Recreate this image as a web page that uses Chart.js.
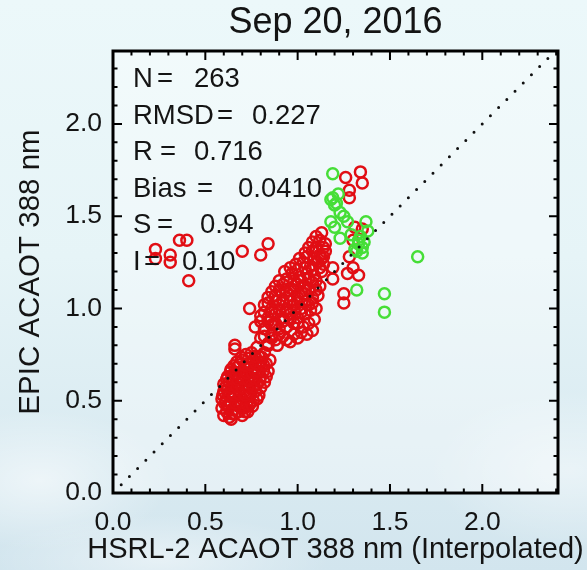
<!DOCTYPE html>
<html lang="en">
<head>
<meta charset="UTF-8">
<title>EPIC vs HSRL-2 ACAOT 388 nm</title>
<script src="https://cdn.jsdelivr.net/npm/chart.js@4"></script>
<style>
  html, body { margin: 0; padding: 0; }
  body {
    width: 587px;
    height: 570px;
    overflow: hidden;
    background:
      radial-gradient(ellipse 130px 70px at 40px 480px, rgba(255,255,255,0.55), rgba(255,255,255,0)),
      radial-gradient(ellipse 170px 45px at 160px 560px, rgba(255,255,255,0.45), rgba(255,255,255,0)),
      radial-gradient(ellipse 140px 80px at 570px 470px, rgba(255,255,255,0.45), rgba(255,255,255,0)),
      linear-gradient(to bottom, #ecf8fa 0%, #e6f4f7 45%, #d2e5ee 100%);
  }
  canvas { display: block; }
</style>
</head>
<body>
<canvas id="scatter" width="587" height="570"></canvas>
<script>
  // AOT pairs [HSRL-2, EPIC]
  const redPoints = [
    [0.60,0.42],[0.63,0.41],[0.66,0.43],[0.70,0.42],[0.73,0.44],[0.64,0.40],
    [0.59,0.46],[0.62,0.47],[0.65,0.45],[0.68,0.47],[0.71,0.46],[0.74,0.48],
    [0.59,0.51],[0.61,0.50],[0.64,0.52],[0.67,0.50],[0.70,0.51],[0.73,0.52],[0.76,0.50],
    [0.60,0.55],[0.62,0.56],[0.65,0.54],[0.68,0.56],[0.71,0.55],[0.74,0.57],[0.77,0.55],[0.79,0.53],
    [0.60,0.59],[0.63,0.60],[0.66,0.58],[0.69,0.60],[0.72,0.59],[0.75,0.61],[0.78,0.59],[0.82,0.60],
    [0.62,0.63],[0.65,0.64],[0.68,0.62],[0.71,0.64],[0.74,0.63],[0.77,0.65],[0.80,0.63],
    [0.64,0.67],[0.67,0.68],[0.70,0.66],[0.73,0.68],[0.76,0.67],[0.79,0.69],[0.84,0.66],
    [0.67,0.71],[0.70,0.72],[0.73,0.70],[0.76,0.72],[0.80,0.71],[0.83,0.70],[0.85,0.72],
    [0.72,0.75],[0.75,0.76],[0.79,0.74],[0.82,0.76],[0.66,0.80],[0.66,0.78],
    [0.615,0.44],[0.645,0.43],[0.68,0.44],[0.715,0.44],
    [0.605,0.485],[0.635,0.49],[0.665,0.485],[0.695,0.49],[0.725,0.48],[0.755,0.47],
    [0.595,0.53],[0.625,0.535],[0.655,0.53],[0.685,0.535],[0.715,0.53],[0.745,0.535],[0.78,0.51],
    [0.61,0.575],[0.64,0.57],[0.67,0.575],[0.70,0.57],[0.73,0.575],[0.76,0.575],[0.80,0.57],
    [0.615,0.615],[0.645,0.62],[0.675,0.615],[0.705,0.62],[0.735,0.61],[0.765,0.62],[0.795,0.61],[0.83,0.63],
    [0.635,0.655],[0.665,0.65],[0.695,0.645],[0.725,0.65],[0.755,0.65],[0.785,0.66],[0.815,0.66],
    [0.655,0.69],[0.685,0.695],[0.715,0.69],[0.745,0.695],[0.775,0.70],[0.815,0.695],
    [0.695,0.735],[0.735,0.73],[0.77,0.74],[0.805,0.735],
    [0.78,0.79],[0.84,0.80],[0.89,0.80],
    [0.80,0.84],[0.84,0.81],[0.88,0.83],[0.92,0.85],[0.96,0.82],[1.00,0.84],[1.05,0.86],[0.86,0.86],
    [0.82,0.85],[0.86,0.84],[0.90,0.86],[0.94,0.83],[0.98,0.86],[1.02,0.87],
    [0.77,0.90],[0.82,0.89],[0.86,0.91],[0.90,0.89],[0.94,0.90],[0.98,0.92],[1.03,0.90],[1.08,0.88],
    [0.80,0.93],[0.84,0.93],[0.88,0.92],[0.92,0.93],[0.96,0.94],[1.00,0.92],[1.06,0.92],
    [0.80,0.96],[0.84,0.95],[0.88,0.97],[0.92,0.95],[0.96,0.97],[1.00,0.95],[1.04,0.97],[1.09,0.94],
    [0.82,0.98],[0.86,0.98],[0.90,0.99],[0.94,0.98],[0.98,0.99],[1.02,0.98],[1.07,0.99],
    [0.74,1.00],[0.82,1.02],[0.86,1.00],[0.90,1.02],[0.94,1.00],[0.98,1.02],[1.02,1.00],[1.06,1.02],[1.10,1.00],
    [0.84,1.03],[0.88,1.04],[0.92,1.03],[0.96,1.04],[1.00,1.03],[1.04,1.04],[1.08,1.03],
    [0.84,1.06],[0.88,1.07],[0.92,1.05],[0.96,1.07],[1.00,1.06],[1.04,1.08],[1.08,1.06],[1.11,1.07],
    [0.86,1.09],[0.90,1.10],[0.94,1.09],[0.98,1.10],[1.02,1.09],[1.06,1.10],[1.10,1.10],
    [0.88,1.12],[0.92,1.13],[0.96,1.11],[1.00,1.13],[1.04,1.12],[1.08,1.14],[1.12,1.12],
    [0.90,1.15],[0.94,1.16],[0.98,1.15],[1.02,1.15],[1.06,1.16],[1.10,1.15],
    [0.93,1.20],[0.97,1.19],[1.01,1.17],[1.05,1.19],[1.09,1.18],[1.13,1.20],
    [0.96,1.22],[1.00,1.21],[1.04,1.22],[1.08,1.21],[1.12,1.22],
    [0.99,1.24],[1.03,1.25],[1.07,1.23],[1.11,1.25],[1.14,1.24],
    [1.01,1.27],[1.05,1.28],[1.09,1.27],[1.13,1.27],
    [1.04,1.30],[1.08,1.31],[1.12,1.29],[1.15,1.31],
    [1.06,1.33],[1.10,1.33],[1.10,1.39],[1.13,1.41],
    [1.08,1.36],[1.12,1.37],[1.15,1.35],[1.14,1.33],[1.14,1.28],
    [1.19,1.22],[1.19,1.16],[1.28,1.28],[1.30,1.22],[1.27,1.19],[1.33,1.18],[1.25,1.08],[1.25,1.03],
    [1.34,1.74],[1.35,1.68],[1.26,1.71],[1.28,1.60],[1.28,1.64],[1.35,1.43],[1.31,1.44],[1.30,1.37],
    [0.23,1.32],[0.23,1.27],[0.31,1.29],[0.31,1.25],[0.36,1.37],[0.40,1.37],[0.41,1.15],
    [0.70,1.31],[0.80,1.29],[0.84,1.35]
  ];
  const greenPoints = [
    [1.19,1.73],[1.19,1.60],[1.18,1.59],[1.20,1.56],[1.22,1.62],[1.21,1.57],[1.23,1.52],[1.25,1.50],
    [1.18,1.47],[1.27,1.47],[1.37,1.47],[1.20,1.44],[1.38,1.42],[1.23,1.38],[1.29,1.40],[1.33,1.37],
    [1.34,1.39],[1.36,1.36],[1.35,1.33],[1.35,1.30],[1.31,1.32],[1.32,1.31],[1.33,1.35],[1.65,1.28],
    [1.32,1.10],[1.47,1.08],[1.47,0.98]
  ];
  const oneToOne = [0, 2.4];

  const statNames = ['N', 'RMSD', 'R', 'Bias', 'S', 'I'];
  const statValues = ['263', '0.227', '0.716', '0.0410', '0.94', '0.10'];

  const FONT = '"Liberation Sans", Arial, Helvetica, sans-serif';
  const INK = '#141414';
  const X_TITLE = 'HSRL-2 ACAOT 388 nm (Interpolated)';

  // box, inward ticks on all four sides, light fill behind the points
  const framePlugin = {
    id: 'frame',
    beforeDatasetsDraw(chart) {
      const { ctx, chartArea: a } = chart;
      ctx.save();
      ctx.fillStyle = 'rgba(255,255,255,0.35)';
      ctx.fillRect(a.left, a.top, a.right - a.left, a.bottom - a.top);
      ctx.restore();
    },
    afterDraw(chart) {
      const { ctx, chartArea: a, scales } = chart;
      ctx.save();
      ctx.strokeStyle = '#000';
      ctx.lineWidth = 2;
      ctx.beginPath();
      for (let i = 0; i <= 24; i++) {
        const v = i / 10;
        const len = i % 5 === 0 ? 9 : 4.5;
        const px = scales.x.getPixelForValue(v);
        if (px < a.right - 1) {
          ctx.moveTo(px, a.bottom); ctx.lineTo(px, a.bottom - len);
          ctx.moveTo(px, a.top); ctx.lineTo(px, a.top + len);
        }
        const py = scales.y.getPixelForValue(v);
        if (py > a.top + 1) {
          ctx.moveTo(a.left, py); ctx.lineTo(a.left + len, py);
          ctx.moveTo(a.right, py); ctx.lineTo(a.right - len, py);
        }
      }
      ctx.stroke();
      ctx.lineWidth = 3;
      ctx.strokeRect(a.left, a.top, a.right - a.left, a.bottom - a.top);

      // x title is wider than the plot box, so it is drawn here
      ctx.font = '29px ' + FONT;
      ctx.fillStyle = INK;
      ctx.textAlign = 'center';
      ctx.textBaseline = 'middle';
      ctx.fillText(X_TITLE, (a.left + a.right) / 2, 550);
      ctx.restore();
    }
  };

  // statistics block in the upper left corner
  const eqX = [44, 104, 47, 84, 44, 31];
  const valX = [81, 139, 81, 125, 87, 69];
  const statsPlugin = {
    id: 'stats',
    afterDatasetsDraw(chart) {
      const { ctx, chartArea: a } = chart;
      ctx.save();
      ctx.font = '27.5px ' + FONT;
      ctx.fillStyle = INK;
      ctx.textBaseline = 'alphabetic';
      statNames.forEach((name, i) => {
        const base = a.top + 36 + i * 36.6;
        ctx.fillText(name, a.left + 20, base);
        ctx.fillText('=', a.left + eqX[i], base);
        ctx.fillText(statValues[i], a.left + valX[i], base);
      });
      ctx.restore();
    }
  };

  const toXY = p => ({ x: p[0], y: p[1] });

  new Chart(document.getElementById('scatter'), {
    type: 'scatter',
    data: {
      datasets: [
        {
          data: oneToOne.map(v => ({ x: v, y: v })),
          showLine: true,
          borderColor: '#111',
          borderWidth: 3,
          borderDash: [0, 11.6],
          borderCapStyle: 'round',
          pointRadius: 0
        },
        {
          data: greenPoints.map(toXY),
          pointStyle: 'circle',
          pointRadius: 5.5,
          pointBorderWidth: 2.5,
          pointBorderColor: 'rgb(70,222,55)',
          pointBackgroundColor: 'rgba(0,0,0,0)'
        },
        {
          data: redPoints.map(toXY),
          pointStyle: 'circle',
          pointRadius: 5.5,
          pointBorderWidth: 2.5,
          pointBorderColor: 'rgb(225,14,20)',
          pointBackgroundColor: 'rgba(0,0,0,0)'
        }
      ]
    },
    options: {
      responsive: false,
      animation: false,
      layout: { padding: { top: 0, right: 29, bottom: 0, left: 0 } },
      plugins: {
        legend: { display: false },
        tooltip: { enabled: false },
        title: {
          display: true,
          text: 'Sep 20, 2016',
          fullSize: false,
          color: INK,
          font: { family: FONT, size: 36, weight: 'normal' },
          padding: { top: 1, bottom: 6.8 }
        }
      },
      scales: {
        x: {
          type: 'linear',
          min: 0,
          max: 2.41,
          grid: { display: false, drawTicks: false },
          border: { display: false },
          ticks: {
            stepSize: 0.5,
            includeBounds: false,
            color: INK,
            padding: 14,
            font: { family: FONT, size: 26.5 },
            callback: v => v.toFixed(1)
          },
          afterFit: s => { s.height = 77; }
        },
        y: {
          type: 'linear',
          min: 0,
          max: 2.395,
          grid: { display: false, drawTicks: false },
          border: { display: false },
          ticks: {
            stepSize: 0.5,
            includeBounds: false,
            color: INK,
            padding: 11,
            font: { family: FONT, size: 26.5 },
            callback: v => v.toFixed(1)
          },
          title: {
            display: true,
            text: 'EPIC ACAOT 388 nm',
            color: INK,
            font: { family: FONT, size: 29.5 },
            padding: { top: 13, bottom: 0 }
          },
          afterFit: s => { s.width = 113; }
        }
      }
    },
    plugins: [framePlugin, statsPlugin]
  });
</script>
</body>
</html>
